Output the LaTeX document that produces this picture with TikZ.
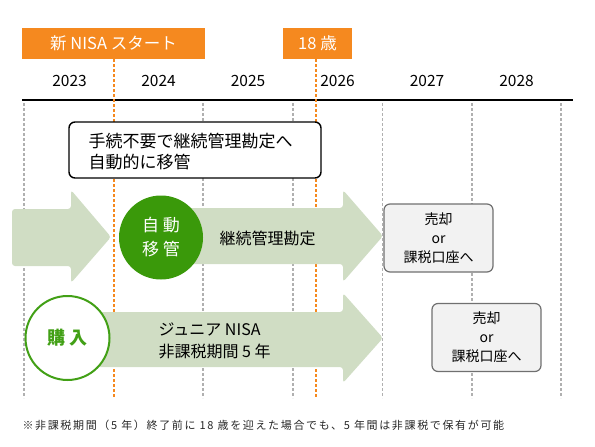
\documentclass[tikz,border=0pt]{standalone}
\usepackage{fontspec}
\setmainfont{Noto Sans CJK JP}
\newfontfamily\footfont[LetterSpace=15]{Noto Sans CJK JP}
\definecolor{orng}{HTML}{F5891F}
\definecolor{lgreen}{HTML}{D0DDC4}
\definecolor{dgreen}{HTML}{3A990A}
\definecolor{mgreen}{HTML}{42A016}
\definecolor{gline}{HTML}{B0B0B0}
\definecolor{boxgray}{HTML}{F2F2F2}
\definecolor{boxline}{HTML}{707070}
\tikzset{
  gdash/.style={gline, line width=1.6pt, dash pattern=on 3pt off 2pt},
  odash/.style={orng, line width=1.6pt, dash pattern=on 3pt off 2pt},
  tag/.style={fill=orng, text=white, inner sep=0pt, minimum height=31pt, font=\fontsize{16.5}{20}\selectfont},
  yearlbl/.style={font=\fontsize{15.5}{18}\selectfont, text=black},
  garrow/.style={fill=lgreen, rounded corners=3pt},
  exitbox/.style={draw=boxline, fill=boxgray, line width=1.2pt, rounded corners=6pt, minimum width=109pt, minimum height=68pt, align=center, font=\fontsize{14}{19}\selectfont, inner sep=0pt},
}
\begin{document}
\begin{tikzpicture}[x=1pt,y=-1pt]
\useasboundingbox (0,0) rectangle (595,447);
% tags
\node[tag, minimum width=183pt] (tnisa) at (113.5,43.5) {新 NISA スタート};
\node[tag, minimum width=69pt] (t18) at (317.5,43.5) {18 歳};
% years
\foreach \x/\y [count=\i] in {69.5/2023,158.5/2024,248/2025,337.5/2026,427/2027,516.5/2028}
  \node[yearlbl] (y\i) at (\x,81) {\y};
% axis
\coordinate (axl) at (22,100);
\coordinate (axr) at (573,100);
\draw[line width=2pt] (axl) -- (axr);
% gray dashed lines
\foreach \x [count=\i] in {24,203,293,382.5,472,561}{
  \coordinate (gt\i) at (\x,103);
  \coordinate (gb\i) at (\x,398);
  \draw[gdash] (gt\i) -- (gb\i);
}
% orange dashed lines
\coordinate (o1b) at (114,398);
\coordinate (o2b) at (316,398);
\draw[odash] (tnisa.south -| o1b) -- (o1b);
\draw[odash] (t18.south -| o2b) -- (o2b);
% note box
\node[draw=black, fill=white, line width=1.4pt, rounded corners=6pt, minimum width=252pt, minimum height=56pt, inner sep=0pt] (note) at (195,150) {};
\node[align=left, anchor=west, font=\fontsize{17}{21}\selectfont] (notetxt) at (85,152) {手続不要で継続管理勘定へ\\自動的に移管};
% arrows
\fill[garrow] (12,209) -- (71,209) -- (71,190) -- (111,237) -- (71,283) -- (71,266) -- (12,266) -- cycle;
\fill[garrow] (161,208) -- (343,208) -- (343,190) -- (383,236) -- (343,282) -- (343,264) -- (161,264) -- cycle;
\fill[garrow] (67,312) -- (343,312) -- (343,293) -- (383,338) -- (343,383) -- (343,367) -- (67,367) -- cycle;
% circles
\node[circle, fill=dgreen, minimum size=84pt, inner sep=0pt, text=white, align=center, font=\fontsize{17}{24}\selectfont] (auto) at (161,237.5) {自 動\\移 管};
\node[circle, draw=mgreen, line width=2pt, fill=white, minimum size=84pt, inner sep=0pt, text=mgreen, font=\fontsize{18}{22}\selectfont\bfseries] (buy) at (67.5,338) {購 入};
% arrow texts
\node[font=\fontsize{16}{20}\selectfont, anchor=west] (keizoku) at (216,238) {継続管理勘定};
\node[font=\fontsize{16}{22}\selectfont, align=left, anchor=west] (junior) at (155,341) {ジュニア NISA\\非課税期間 5 年};
% exit boxes
\node[exitbox] (ex1) at (438.5,238) {売却\\or\\課税口座へ};
\node[exitbox] (ex2) at (486.5,337.5) {売却\\or\\課税口座へ};
% footnote
\node[anchor=west, font=\footfont\fontsize{11}{14}\selectfont, text=black!85] (foot) at (19,425) {※非課税期間（5 年）終了前に 18 歳を迎えた場合でも、5 年間は非課税で保有が可能};
\end{tikzpicture}
\end{document}
